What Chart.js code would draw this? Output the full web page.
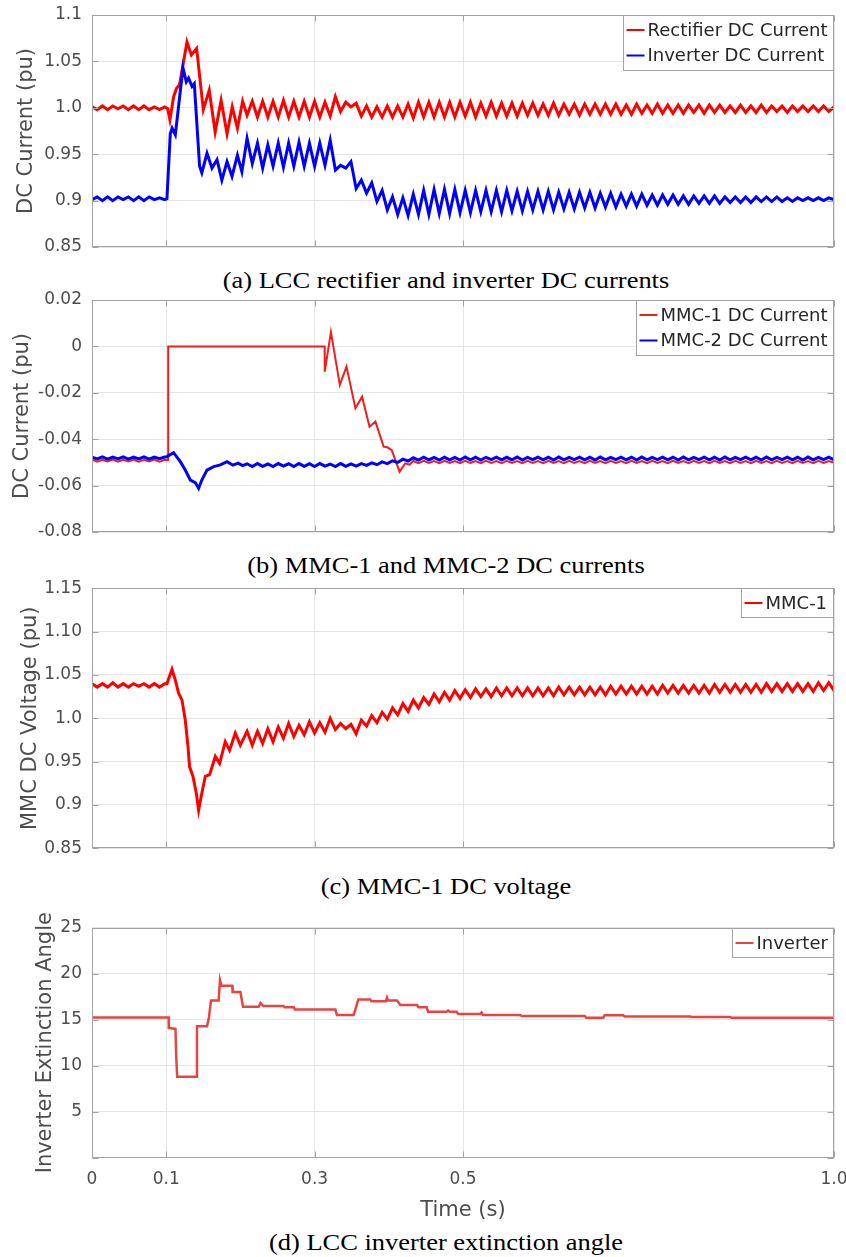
<!DOCTYPE html>
<html>
<head>
<meta charset="utf-8">
<script src="https://cdn.jsdelivr.net/npm/chart.js@4.4.1/dist/chart.umd.min.js"></script>
<style>
  body { margin: 0; background: #fff; width: 846px; height: 1257px; position: relative; overflow: hidden; }
  .panel { position: absolute; left: 0; width: 846px; }
  .cap {
    position: absolute; left: 0; width: 892px; text-align: center; white-space: nowrap;
    font-family: 'Liberation Serif', 'Times New Roman', serif; font-size: 23px; line-height: 23px; color: #000;
    transform: scaleX(1.15); transform-origin: 446px 0;
  }
</style>
</head>
<body>

<div class="panel" style="top:0;height:262px"><canvas id="chartA"></canvas></div>
<div class="cap" style="top:269px">(a) LCC rectifier and inverter DC currents</div>

<div class="panel" style="top:288px;height:256px"><canvas id="chartB"></canvas></div>
<div class="cap" style="top:554px">(b) MMC-1 and MMC-2 DC currents</div>

<div class="panel" style="top:574px;height:286px"><canvas id="chartC"></canvas></div>
<div class="cap" style="top:875px">(c) MMC-1 DC voltage</div>

<div class="panel" style="top:910px;height:320px"><canvas id="chartD"></canvas></div>
<div class="cap" style="top:1231px">(d) LCC inverter extinction angle</div>

<script>
  // ---- time bases (s) ----
  const tPre = [0, 0.007, 0.014, 0.021, 0.028, 0.035, 0.042, 0.049, 0.056, 0.063, 0.070, 0.077, 0.084, 0.091, 0.098];
  const tPost = [
    0.209, 0.216, 0.223, 0.230, 0.237, 0.244, 0.251, 0.258, 0.265, 0.272,
    0.279, 0.286, 0.293, 0.300, 0.307, 0.314, 0.321, 0.328, 0.335, 0.342,
    0.349, 0.356, 0.363, 0.370, 0.377, 0.384, 0.391, 0.398, 0.405, 0.412,
    0.419, 0.426, 0.433, 0.440, 0.447, 0.454, 0.461, 0.468, 0.475, 0.482,
    0.489, 0.496, 0.503, 0.510, 0.517, 0.524, 0.531, 0.538, 0.545, 0.552,
    0.559, 0.566, 0.573, 0.580, 0.587, 0.594, 0.601, 0.608, 0.615, 0.622,
    0.629, 0.636, 0.643, 0.650, 0.657, 0.664, 0.671, 0.678, 0.685, 0.692,
    0.699, 0.706, 0.713, 0.720, 0.727, 0.734, 0.741, 0.748, 0.755, 0.762,
    0.769, 0.776, 0.783, 0.790, 0.797, 0.804, 0.811, 0.818, 0.825, 0.832,
    0.839, 0.846, 0.853, 0.860, 0.867, 0.874, 0.881, 0.888, 0.895, 0.902,
    0.909, 0.916, 0.923, 0.930, 0.937, 0.944, 0.951, 0.958, 0.965, 0.972,
    0.979, 0.986, 0.993, 1.000
  ];

  // ---- axis ticks ----
  const xTicks = [0, 0.1, 0.3, 0.5, 1.0];
  const xLabels = ['0', '0.1', '0.3', '0.5', '1.0'];
  const yTicksA = [0.85, 0.9, 0.95, 1.0, 1.05, 1.1];
  const yLabelsA = ['0.85', '0.9', '0.95', '1.0', '1.05', '1.1'];
  const yTicksB = [-0.08, -0.06, -0.04, -0.02, 0, 0.02];
  const yLabelsB = ['-0.08', '-0.06', '-0.04', '-0.02', '0', '0.02'];
  const yTicksC = [0.85, 0.9, 0.95, 1.0, 1.05, 1.10, 1.15];
  const yLabelsC = ['0.85', '0.9', '0.95', '1.0', '1.05', '1.10', '1.15'];
  const yTicksD = [0, 5, 10, 15, 20, 25];
  const yLabelsD = ['', '5', '10', '15', '20', '25'];

  // ---- (a) LCC DC currents (pu) ----
  const rectPre = [1.001, 0.998, 1.002, 0.998, 1.002, 0.999, 1.002, 0.998, 1.002, 0.998, 1.002, 0.998, 1.001, 0.998, 1.001];
  const rectFaultT = [0.102, 0.105, 0.110, 0.114, 0.118, 0.128, 0.134, 0.141, 0.150, 0.158, 0.166, 0.174, 0.182, 0.189, 0.196, 0.203];
  const rectFault = [0.999, 0.987, 1.012, 1.021, 1.025, 1.071, 1.057, 1.064, 0.998, 1.019, 0.974, 1.008, 0.972, 1.001, 0.978, 1.007];
  const rectPost = [
    0.992, 1.007, 0.990, 1.007, 0.990, 1.007, 0.990, 1.008, 0.990, 1.007,
    0.990, 1.007, 0.990, 1.007, 0.990, 1.006, 0.991, 1.012, 0.996, 1.006,
    1.001, 1.005, 0.991, 1.002, 0.990, 1.001, 0.990, 1.002, 0.990, 1.002,
    0.990, 1.004, 0.989, 1.006, 0.990, 1.006, 0.990, 1.006, 0.990, 1.006,
    0.990, 1.006, 0.991, 1.006, 0.990, 1.005, 0.991, 1.006, 0.991, 1.005,
    0.991, 1.005, 0.991, 1.005, 0.992, 1.005, 0.992, 1.004, 0.992, 1.005,
    0.992, 1.004, 0.993, 1.004, 0.992, 1.004, 0.993, 1.004, 0.993, 1.004,
    0.993, 1.004, 0.993, 1.003, 0.993, 1.004, 0.994, 1.003, 0.994, 1.004,
    0.994, 1.003, 0.994, 1.003, 0.994, 1.003, 0.995, 1.003, 0.994, 1.003,
    0.995, 1.003, 0.995, 1.002, 0.995, 1.003, 0.995, 1.002, 0.995, 1.003,
    0.995, 1.002, 0.996, 1.002, 0.995, 1.002, 0.996, 1.002, 0.996, 1.002,
    0.996, 1.002, 0.996, 1.001
  ];
  const invPre = [0.901, 0.904, 0.900, 0.904, 0.900, 0.904, 0.901, 0.904, 0.900, 0.904, 0.900, 0.904, 0.901, 0.903, 0.901];
  const invFaultT = [0.101, 0.1055, 0.108, 0.1123, 0.1226, 0.1271, 0.1302, 0.1348, 0.1379, 0.145, 0.148, 0.155, 0.1617, 0.1685, 0.175, 0.182, 0.1887, 0.196, 0.202];
  const invFault = [0.902, 0.972, 0.978, 0.971, 1.043, 1.028, 1.032, 1.023, 1.026, 0.937, 0.930, 0.951, 0.935, 0.944, 0.922, 0.942, 0.926, 0.949, 0.931];
  const invPost = [
    0.967, 0.940, 0.962, 0.935, 0.960, 0.937, 0.962, 0.936, 0.962, 0.937,
    0.963, 0.937, 0.962, 0.937, 0.962, 0.938, 0.965, 0.933, 0.938, 0.935,
    0.942, 0.913, 0.922, 0.908, 0.919, 0.899, 0.911, 0.890, 0.904, 0.885,
    0.903, 0.884, 0.907, 0.885, 0.911, 0.885, 0.912, 0.886, 0.912, 0.886,
    0.912, 0.887, 0.911, 0.887, 0.911, 0.888, 0.911, 0.888, 0.911, 0.888,
    0.911, 0.889, 0.910, 0.889, 0.910, 0.890, 0.910, 0.890, 0.910, 0.890,
    0.909, 0.891, 0.909, 0.891, 0.909, 0.892, 0.909, 0.892, 0.908, 0.893,
    0.908, 0.893, 0.907, 0.894, 0.907, 0.894, 0.907, 0.895, 0.906, 0.895,
    0.906, 0.896, 0.906, 0.896, 0.905, 0.896, 0.905, 0.897, 0.905, 0.897,
    0.905, 0.897, 0.904, 0.898, 0.904, 0.898, 0.904, 0.898, 0.904, 0.899,
    0.904, 0.899, 0.904, 0.899, 0.903, 0.899, 0.903, 0.900, 0.903, 0.900,
    0.903, 0.900, 0.903, 0.901
  ];

  // ---- (b) MMC DC currents (pu) ----
  const mmc1Pre = [-0.0488, -0.0497, -0.0489, -0.0496, -0.0488, -0.0497, -0.0489, -0.0496, -0.0488, -0.0497, -0.0489, -0.0496, -0.0488, -0.0497, -0.0489];
  const mmc1FaultT = [0.1025, 0.1027, 0.3135, 0.3137, 0.322, 0.334, 0.343, 0.355, 0.364, 0.374, 0.382, 0.393, 0.398, 0.404, 0.4145, 0.422, 0.428];
  const mmc1Fault = [-0.0490, 0.0, 0.0, -0.0109, 0.0062, -0.0166, -0.0087, -0.0267, -0.0217, -0.0346, -0.0324, -0.0432, -0.0435, -0.0447, -0.0540, -0.0504, -0.0510];
  const mmc1Post = [ // from t = 0.433
    -0.0494, -0.0503, -0.0493, -0.0502, -0.0494, -0.0503, -0.0493, -0.0502,
    -0.0494, -0.0503, -0.0493, -0.0502, -0.0494, -0.0503, -0.0493, -0.0502, -0.0494, -0.0503, -0.0493, -0.0502,
    -0.0494, -0.0503, -0.0493, -0.0502, -0.0494, -0.0503, -0.0493, -0.0502, -0.0494, -0.0503, -0.0493, -0.0502,
    -0.0494, -0.0503, -0.0493, -0.0502, -0.0494, -0.0503, -0.0493, -0.0502, -0.0494, -0.0503, -0.0493, -0.0502,
    -0.0494, -0.0503, -0.0493, -0.0502, -0.0494, -0.0503, -0.0493, -0.0502, -0.0494, -0.0503, -0.0493, -0.0502,
    -0.0494, -0.0503, -0.0493, -0.0502, -0.0494, -0.0503, -0.0493, -0.0502, -0.0494, -0.0503, -0.0493, -0.0502,
    -0.0494, -0.0503, -0.0493, -0.0502, -0.0494, -0.0503, -0.0493, -0.0502, -0.0494, -0.0503, -0.0493, -0.0502,
    -0.0494, -0.0502
  ];
  const mmc2Pre = [-0.0478, -0.0485, -0.0476, -0.0486, -0.0477, -0.0485, -0.0476, -0.0486, -0.0477, -0.0485, -0.0476, -0.0486, -0.0477, -0.0484, -0.0477];
  const mmc2FaultT = [0.101, 0.110, 0.119, 0.1257, 0.1325, 0.1392, 0.1437, 0.148, 0.155, 0.164, 0.173, 0.182, 0.190, 0.197, 0.203];
  const mmc2Fault = [-0.0475, -0.0458, -0.0497, -0.0533, -0.0576, -0.0587, -0.0612, -0.0576, -0.0533, -0.0518, -0.0511, -0.0497, -0.0512, -0.0503, -0.0514];
  const mmc2Post = [
    -0.0506, -0.0518, -0.0505, -0.0517, -0.0507, -0.0518, -0.0505, -0.0516, -0.0506, -0.0518,
    -0.0505, -0.0517, -0.0506, -0.0518, -0.0505, -0.0516, -0.0507, -0.0518, -0.0505, -0.0517,
    -0.0506, -0.0516, -0.0505, -0.0513, -0.0502, -0.0510, -0.0498, -0.0505, -0.0493, -0.0500,
    -0.0486, -0.0494, -0.0480, -0.0490, -0.0478, -0.0489, -0.0479, -0.0490, -0.0478, -0.0489,
    -0.0479, -0.0490, -0.0477, -0.0489, -0.0478, -0.0490, -0.0478, -0.0488, -0.0477, -0.0489,
    -0.0478, -0.0489, -0.0477, -0.0490, -0.0478, -0.0488, -0.0477, -0.0489, -0.0478, -0.0490,
    -0.0477, -0.0489, -0.0478, -0.0488, -0.0477, -0.0489, -0.0478, -0.0490, -0.0477, -0.0489,
    -0.0478, -0.0488, -0.0477, -0.0489, -0.0478, -0.0490, -0.0477, -0.0489, -0.0478, -0.0488,
    -0.0477, -0.0489, -0.0478, -0.0490, -0.0477, -0.0489, -0.0478, -0.0488, -0.0477, -0.0489,
    -0.0478, -0.0490, -0.0477, -0.0489, -0.0478, -0.0488, -0.0477, -0.0489, -0.0478, -0.0490,
    -0.0477, -0.0489, -0.0478, -0.0488, -0.0477, -0.0489, -0.0478, -0.0490, -0.0477, -0.0489,
    -0.0478, -0.0488, -0.0477, -0.0489
  ];

  // ---- (c) MMC-1 DC voltage (pu) ----
  const vdcPre = [1.040, 1.036, 1.040, 1.036, 1.041, 1.036, 1.040, 1.036, 1.040, 1.037, 1.040, 1.036, 1.040, 1.036, 1.040];
  const vdcFaultT = [0.101, 0.1078, 0.1123, 0.1167, 0.1213, 0.1257, 0.1294, 0.1315, 0.1361, 0.1406, 0.1437, 0.148, 0.1527, 0.1585, 0.1662, 0.172, 0.1796, 0.1854, 0.1931, 0.1999];
  const vdcFault = [1.040, 1.0565, 1.044, 1.029, 1.021, 0.998, 0.967, 0.944, 0.933, 0.9135, 0.894, 0.9135, 0.933, 0.935, 0.956, 0.948, 0.973, 0.963, 0.983, 0.969];
  const vdcPost = [
    0.985, 0.969, 0.985, 0.971, 0.988, 0.973, 0.990, 0.977, 0.994, 0.979,
    0.992, 0.981, 0.996, 0.983, 0.995, 0.984, 1.000, 0.987, 0.994, 0.988,
    0.993, 0.982, 0.998, 0.991, 1.003, 0.995, 1.007, 0.999, 1.012, 1.004,
    1.017, 1.008, 1.021, 1.012, 1.024, 1.016, 1.028, 1.019, 1.030, 1.021,
    1.032, 1.023, 1.033, 1.024, 1.034, 1.025, 1.034, 1.025, 1.035, 1.026,
    1.035, 1.026, 1.035, 1.026, 1.035, 1.026, 1.035, 1.026, 1.035, 1.026,
    1.036, 1.027, 1.036, 1.027, 1.036, 1.027, 1.036, 1.027, 1.036, 1.027,
    1.037, 1.028, 1.037, 1.028, 1.037, 1.028, 1.037, 1.028, 1.037, 1.028,
    1.038, 1.029, 1.038, 1.029, 1.038, 1.029, 1.038, 1.029, 1.038, 1.029,
    1.039, 1.030, 1.039, 1.030, 1.039, 1.030, 1.039, 1.030, 1.039, 1.030,
    1.040, 1.031, 1.040, 1.031, 1.040, 1.031, 1.040, 1.031, 1.040, 1.031,
    1.041, 1.032, 1.041, 1.032
  ];

  // ---- (d) inverter extinction angle (deg) ----
  const gammaT = [
    0, 0.1033, 0.1035, 0.1125, 0.1135, 0.1148, 0.1406, 0.1415, 0.155, 0.1575, 0.1604, 0.1707, 0.1725, 0.1745,
    0.189, 0.1895, 0.200, 0.2035, 0.2245, 0.227, 0.231, 0.258, 0.2595, 0.272, 0.2735, 0.328, 0.330, 0.3526,
    0.359, 0.375, 0.3765, 0.396, 0.3976, 0.399, 0.411, 0.4155, 0.438, 0.440, 0.451, 0.453, 0.478, 0.480,
    0.482, 0.4914, 0.4935, 0.523, 0.525, 0.527, 0.577, 0.579, 0.664, 0.666, 0.689, 0.691, 0.716, 0.718,
    0.806, 0.808, 0.860, 0.862, 1.0
  ];
  const gamma = [
    15.25, 15.25, 14.1, 14.0, 11.0, 8.8, 8.8, 14.3, 14.3, 15.2, 17.1, 17.1, 19.3, 18.7,
    18.7, 18.0, 18.0, 16.4, 16.4, 16.8, 16.5, 16.5, 16.35, 16.35, 16.1, 16.1, 15.5, 15.5,
    17.2, 17.2, 17.0, 17.0, 17.4, 17.1, 17.1, 16.6, 16.6, 16.35, 16.35, 15.87, 15.87, 16.0,
    15.87, 15.87, 15.62, 15.62, 15.8, 15.51, 15.51, 15.4, 15.4, 15.22, 15.22, 15.48, 15.48, 15.35,
    15.35, 15.3, 15.3, 15.2, 15.2
  ];

  Chart.defaults.font.family = "'DejaVu Sans', sans-serif";
  const axisGrey = '#4d4d4d';
  const gridGrey = '#e6e6e6';
  const frameGrey = '#a3a3a3';

  function pts(t, v) {
    return t.map((x, i) => ({ x: x, y: v[i] }));
  }

  // MATLAB-like box, inward ticks and boxed legend
  const boxPlugin = {
    id: 'boxFrame',
    afterDraw(chart) {
      const ctx = chart.ctx;
      const a = chart.chartArea;
      const L = Math.round(a.left) + 0.5, R = Math.round(a.right) - 0.5;
      const T = Math.round(a.top) + 0.5, B = Math.round(a.bottom) - 0.5;
      ctx.save();
      ctx.strokeStyle = frameGrey;
      ctx.lineWidth = 1;
      ctx.beginPath();
      chart.scales.y.ticks.forEach(tk => {
        const y = Math.round(chart.scales.y.getPixelForValue(tk.value)) + 0.5;
        ctx.moveTo(L, y); ctx.lineTo(L + 6, y);
        ctx.moveTo(R, y); ctx.lineTo(R - 6, y);
      });
      chart.scales.x.ticks.forEach(tk => {
        const x = Math.round(chart.scales.x.getPixelForValue(tk.value)) + 0.5;
        ctx.moveTo(x, T); ctx.lineTo(x, T + 6);
        ctx.moveTo(x, B); ctx.lineTo(x, B - 6);
      });
      ctx.stroke();
      ctx.strokeRect(L, T, R - L, B - T);

      // legend box
      const sets = chart.data.datasets;
      ctx.font = "18px 'DejaVu Sans', sans-serif";
      let tw = 0;
      sets.forEach(d => { tw = Math.max(tw, ctx.measureText(d.label).width); });
      const w = Math.round(3 + 18 + 3 + tw + 6);
      const h = Math.round(29 + 25.5 * (sets.length - 1));
      const bx = R - w;
      ctx.fillStyle = '#fff';
      ctx.fillRect(bx, T, w, h);
      ctx.strokeStyle = frameGrey;
      ctx.strokeRect(bx, T, w, h);
      ctx.textBaseline = 'middle';
      ctx.textAlign = 'left';
      sets.forEach((d, i) => {
        const cy = T + 14.5 + 25.5 * i;
        ctx.strokeStyle = d.borderColor;
        ctx.lineWidth = 2;
        ctx.beginPath();
        ctx.moveTo(bx + 3, cy); ctx.lineTo(bx + 21, cy);
        ctx.stroke();
        ctx.fillStyle = '#262626';
        ctx.fillText(d.label, bx + 24, cy + 1);
      });
      ctx.restore();
    }
  };

  function makeChart(id, o) {
    return new Chart(document.getElementById(id), {
      type: 'line',
      data: { datasets: o.datasets },
      options: {
        responsive: true,
        maintainAspectRatio: false,
        animation: false,
        events: [],
        layout: { padding: { top: o.padTop, right: 12, bottom: 0, left: 0 } },
        elements: { point: { radius: 0 }, line: { tension: 0 } },
        plugins: { legend: { display: false }, tooltip: { enabled: false } },
        scales: {
          x: {
            type: 'linear', min: 0, max: 1,
            afterBuildTicks: s => { s.ticks = xTicks.map(v => ({ value: v })); },
            afterFit: s => { s.height = o.xHeight; s.paddingLeft = 0; s.paddingRight = 0; },
            grid: { color: gridGrey, drawTicks: false },
            border: { display: false },
            ticks: {
              display: !!o.showX, padding: 12, color: axisGrey, font: { size: 17 },
              autoSkip: false, maxRotation: 0,
              callback: (v, i) => xLabels[i]
            },
            title: { display: !!o.showX, text: 'Time (s)', color: axisGrey, font: { size: 21 }, padding: { top: 0, bottom: 7 } }
          },
          y: {
            min: o.yTicks[0], max: o.yTicks[o.yTicks.length - 1],
            afterBuildTicks: s => { s.ticks = o.yTicks.map(v => ({ value: v })); },
            afterFit: s => { s.width = 92; s.paddingTop = 0; s.paddingBottom = 0; },
            grid: { color: gridGrey, drawTicks: false },
            border: { display: false },
            ticks: { padding: 10, color: axisGrey, font: { size: 17 }, callback: (v, i) => o.yLabels[i] },
            title: { display: true, text: o.yTitle, color: axisGrey, font: { size: 21 }, padding: { top: o.yTitlePad, bottom: 0 } }
          }
        }
      },
      plugins: [boxPlugin]
    });
  }

  makeChart('chartA', {
    padTop: 15, xHeight: 15, yTicks: yTicksA, yLabels: yLabelsA, yTitle: 'DC Current (pu)', yTitlePad: 14,
    datasets: [
      { label: 'Rectifier DC Current', data: pts(tPre.concat(rectFaultT, tPost), rectPre.concat(rectFault, rectPost)),
        borderColor: '#ff0000', borderWidth: 3, order: 1 },
      { label: 'Inverter DC Current', data: pts(tPre.concat(invFaultT, tPost), invPre.concat(invFault, invPost)),
        borderColor: '#0000ff', borderWidth: 3, order: 0 }
    ]
  });

  makeChart('chartB', {
    padTop: 12, xHeight: 12, yTicks: yTicksB, yLabels: yLabelsB, yTitle: 'DC Current (pu)', yTitlePad: 10,
    datasets: [
      { label: 'MMC-1 DC Current', data: pts(tPre.concat(mmc1FaultT, tPost.slice(32)), mmc1Pre.concat(mmc1Fault, mmc1Post)),
        borderColor: '#f01e1e', borderWidth: 2, order: 1 },
      { label: 'MMC-2 DC Current', data: pts(tPre.concat(mmc2FaultT, tPost), mmc2Pre.concat(mmc2Fault, mmc2Post)),
        borderColor: '#0000ff', borderWidth: 3, order: 0 }
    ]
  });

  makeChart('chartC', {
    padTop: 14.3, xHeight: 11.7, yTicks: yTicksC, yLabels: yLabelsC, yTitle: 'MMC DC Voltage (pu)', yTitlePad: 18,
    datasets: [
      { label: 'MMC-1', data: pts(tPre.concat(vdcFaultT, tPost), vdcPre.concat(vdcFault, vdcPost)),
        borderColor: '#ff0000', borderWidth: 3 }
    ]
  });

  makeChart('chartD', {
    padTop: 17.7, xHeight: 72.3, showX: true, yTicks: yTicksD, yLabels: yLabelsD, yTitle: 'Inverter Extinction Angle', yTitlePad: 33,
    datasets: [
      { label: 'Inverter', data: pts(gammaT, gamma), borderColor: '#e84444', borderWidth: 2.5 }
    ]
  });
</script>
</body>
</html>
